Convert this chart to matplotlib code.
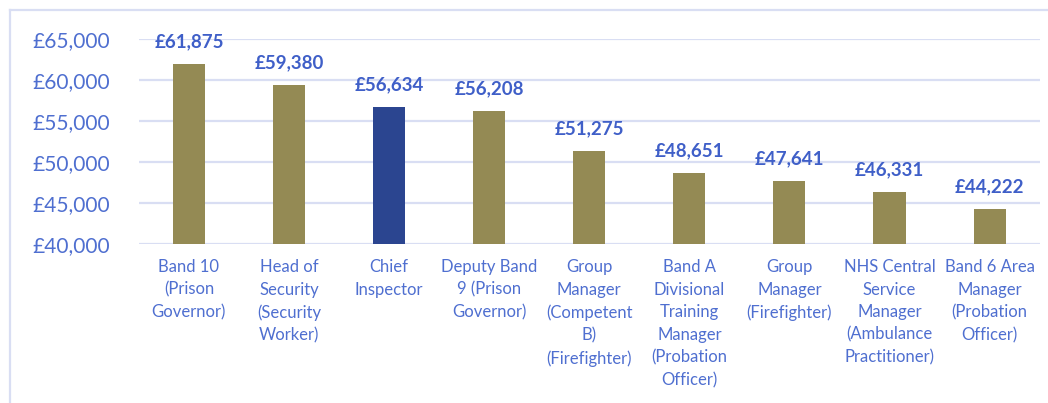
import matplotlib
matplotlib.use("Agg")
import matplotlib.pyplot as plt
from matplotlib.lines import Line2D
from matplotlib.ticker import FuncFormatter

categories = [
    "Band 10\n(Prison\nGovernor)",
    "Head of\nSecurity\n(Security\nWorker)",
    "Chief\nInspector",
    "Deputy Band\n9 (Prison\nGovernor)",
    "Group\nManager\n(Competent\nB)\n(Firefighter)",
    "Band A\nDivisional\nTraining\nManager\n(Probation\nOfficer)",
    "Group\nManager\n(Firefighter)",
    "NHS Central\nService\nManager\n(Ambulance\nPractitioner)",
    "Band 6 Area\nManager\n(Probation\nOfficer)",
]
salaries = [61875, 59380, 56634, 56208, 51275, 48651, 47641, 46331, 44222]
highlight = "Chief\nInspector"
y_ticks = [40000, 45000, 50000, 55000, 60000, 65000]

OLIVE = "#948A54"
NAVY = "#2B4590"
TXT = "#4F6FD0"
VAL = "#3F5FC8"
GRID = "#D9DEF3"

plt.rcParams['font.family'] = ['Lato', 'DejaVu Sans']

fig = plt.figure(figsize=(10.48, 4.03), dpi=100)
ax = fig.add_axes([0.1325, 0.395, 0.8595, 0.509])

x = list(range(len(categories)))
colors = [NAVY if c == highlight else OLIVE for c in categories]
ax.bar(x, salaries, width=0.32, color=colors, zorder=3)

for xi, v in zip(x, salaries):
    ax.annotate(f"£{v:,}", (xi, v), xytext=(0, 10), textcoords="offset points",
                ha="center", va="bottom", fontsize=13.5, fontweight="bold", color=VAL)

ax.set_xlim(-0.5, len(categories) - 0.5)
ax.set_ylim(40000, 65000)
ax.set_yticks(y_ticks)
ax.yaxis.set_major_formatter(FuncFormatter(lambda v, p: f"£{int(v):,}"))
ax.grid(axis="y", color=GRID, linewidth=1.6, zorder=0)
ax.set_xticks(x)
ax.set_xticklabels(categories, fontsize=12, color=TXT, linespacing=1.5, va="top")
ax.tick_params(axis="y", labelsize=15, labelcolor=TXT, length=0, pad=21)
ax.tick_params(axis="x", length=0, pad=11)
for s in ax.spines.values():
    s.set_visible(False)

# outer chart-area frame
fig.add_artist(Line2D([10/1048, 1.0], [1 - 10/403, 1 - 10/403], color=GRID, linewidth=1.6, transform=fig.transFigure))
fig.add_artist(Line2D([10/1048, 10/1048], [0.0, 1 - 10/403], color=GRID, linewidth=1.6, transform=fig.transFigure))

fig.savefig("out.png", dpi=100)
